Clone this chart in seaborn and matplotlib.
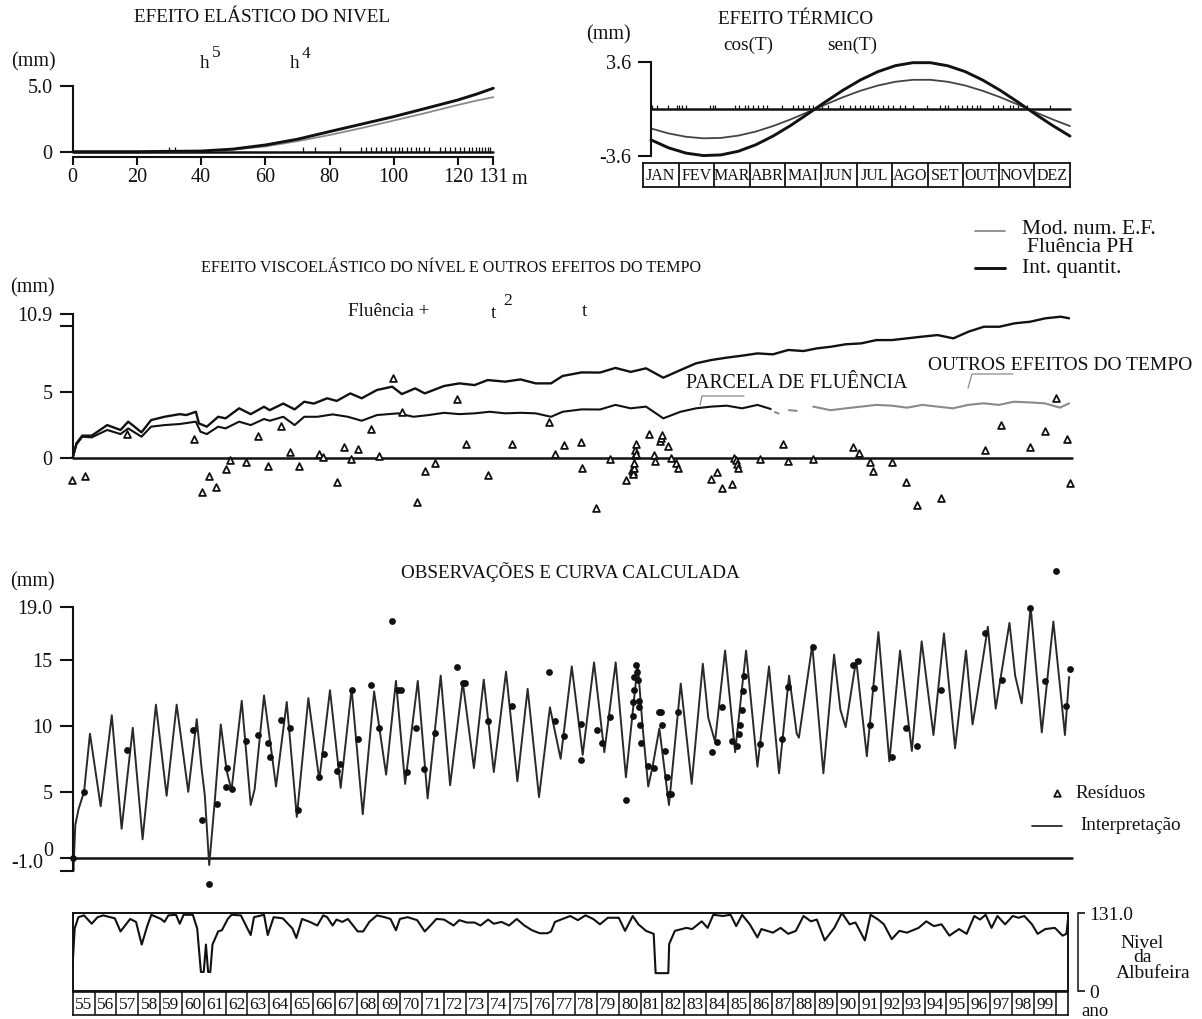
import matplotlib
matplotlib.use("Agg")
import matplotlib.pyplot as plt
import seaborn as sns

# ---------------- DATA ----------------
# Efeito elastico do nivel (h in m, mm)
elast_h = [0, 20, 40, 50, 60, 70, 80, 90, 100, 110, 120, 126, 131]
elast_int_mm = [0.0, 0.0, 0.05, 0.2, 0.51, 0.95, 1.53, 2.1, 2.67, 3.3, 3.94, 4.4, 4.83]
elast_mod_mm = [0.0, 0.0, 0.04, 0.16, 0.4, 0.8, 1.27, 1.8, 2.37, 2.95, 3.56, 3.9, 4.15]
elast_rug_h = [30.1, 31.8, 71.8, 75.4, 83.2, 89.9, 91.5, 93.0, 94.5, 96.0, 97.5, 99.0, 100.5,
               101.5, 102.5, 104.0, 105.5, 107.0, 108.0, 109.5, 111.0, 114.5, 116.0, 117.5,
               119.0, 120.5, 122.0, 123.5, 124.5, 125.5, 126.5, 127.5, 128.5, 129.5, 130.0]
elast_ticks = [0, 20, 40, 60, 80, 100, 120, 131]

# Efeito termico (day of year, mm)
term_day = [0, 15, 30, 45, 60, 75, 90, 105, 120, 135, 150, 165, 180, 195, 210, 225, 240,
            255, 270, 285, 300, 315, 330, 345, 360]
term_int_mm = [-2.38, -2.99, -3.40, -3.59, -3.54, -3.26, -2.76, -2.08, -1.27, -0.36, 0.56,
               1.45, 2.24, 2.88, 3.34, 3.57, 3.57, 3.33, 2.88, 2.23, 1.44, 0.55, -0.38,
               -1.27, -2.09]
term_mod_mm = [-1.50, -1.88, -2.14, -2.26, -2.23, -2.05, -1.74, -1.31, -0.80, -0.23, 0.35,
               0.91, 1.41, 1.81, 2.10, 2.25, 2.25, 2.10, 1.81, 1.40, 0.91, 0.35, -0.24,
               -0.80, -1.32]
term_rug_day = [0.6, 5.4, 14.9, 22.1, 24.1, 26.4, 30.1, 50.7, 53, 55, 72.2, 75.9, 80.8, 83.6,
                88, 92.2, 96.5, 99.4, 112.3, 122.3, 126.6, 130.9, 136.1, 139.6, 143.9, 146.7,
                152.4, 162.4, 165.3, 171, 175.3, 179.6, 183.9, 188.2, 191.1, 195.4, 199.7,
                204, 208.3, 214, 218.3, 225.5, 237, 248.3, 252.6, 255.5, 262.7, 267, 271.3,
                275.6, 279.9, 282.8, 294.2, 298.5, 302.8, 308.6, 311.4, 315.7, 322.9, 343]
months = ["JAN", "FEV", "MAR", "ABR", "MAI", "JUN", "JUL", "AGO", "SET", "OUT", "NOV", "DEZ"]

# Efeito viscoelastico (year, mm)
visc_year = [1955.0, 1955.17, 1955.44, 1955.87, 1956.58, 1957.19, 1957.54, 1958.15, 1958.59,
             1959.2, 1959.9, 1960.2, 1960.64, 1960.78, 1961.14, 1961.66, 1962.0, 1962.62,
             1963.15, 1963.76, 1964.02, 1964.64, 1965.16, 1965.6, 1966.04, 1966.65, 1967.09,
             1967.71, 1968.23, 1968.93, 1969.63, 1970.07, 1970.68, 1971.12, 1972.0, 1972.7,
             1973.4, 1974.0, 1974.8, 1975.5, 1976.2, 1976.9, 1977.43, 1978.3, 1979.14,
             1979.85, 1980.55, 1981.25, 1982.04, 1982.83, 1983.54, 1984.24, 1984.95,
             1985.65, 1986.35, 1987.06, 1987.76, 1988.46, 1989.07, 1989.69, 1990.39, 1991.1,
             1991.8, 1992.5, 1993.2, 1993.9, 1994.6, 1995.32, 1996.02, 1996.72, 1997.43,
             1998.13, 1998.84, 1999.54, 2000.24, 2000.62]
visc_total_mm = [0.0, 1.09, 1.67, 1.67, 2.47, 2.1, 2.73, 1.92, 2.85, 3.1, 3.3, 3.23, 3.48, 2.6,
                 2.35, 3.1, 2.98, 3.74, 3.3, 3.86, 3.6, 4.1, 3.66, 4.24, 4.1, 4.5, 4.3, 4.87,
                 4.5, 5.13, 5.38, 4.82, 5.25, 4.87, 5.43, 5.63, 5.5, 5.88, 5.76, 5.93, 5.63,
                 5.63, 6.19, 6.46, 6.45, 6.8, 6.5, 6.77, 6.06, 6.64, 7.15, 7.4, 7.58, 7.73,
                 7.9, 7.83, 8.16, 8.08, 8.28, 8.4, 8.59, 8.66, 8.91, 8.91, 9.04, 9.17, 9.29,
                 9.04, 9.55, 9.92, 9.92, 10.18, 10.3, 10.56, 10.68, 10.56]
flu_year = [1955.0, 1955.17, 1955.44, 1955.87, 1956.58, 1957.19, 1957.54, 1958.15, 1958.59,
            1959.2, 1959.9, 1960.64, 1960.85, 1961.14, 1961.66, 1962.0, 1962.62, 1963.15,
            1963.76, 1964.02, 1964.64, 1965.16, 1965.6, 1966.2, 1966.9, 1967.6, 1968.23,
            1968.93, 1969.9, 1970.6, 1971.3, 1972.0, 1972.7, 1973.4, 1974.1, 1974.8, 1975.5,
            1976.2, 1976.9, 1977.43, 1978.3, 1979.14, 1979.85, 1980.55, 1981.25, 1982.04,
            1982.83, 1983.54, 1984.24, 1984.95, 1985.65, 1986.35, 1986.96]
flu_mm = [0.0, 1.0, 1.59, 1.54, 2.1, 1.79, 2.22, 1.59, 2.35, 2.47, 2.55, 2.73, 1.97, 1.79,
          2.35, 2.22, 2.73, 2.47, 2.93, 2.8, 3.1, 2.47, 3.1, 3.1, 3.28, 3.1, 2.8, 3.23, 3.36,
          3.1, 3.23, 3.4, 3.3, 3.36, 3.48, 3.36, 3.4, 3.36, 3.1, 3.48, 3.66, 3.65, 4.0, 3.74,
          3.87, 2.98, 3.48, 3.74, 3.87, 3.94, 3.74, 4.0, 3.69]
flu_gap_a_year = [1987.15, 1987.32]
flu_gap_a_mm = [3.45, 3.35]
flu_gap_b_year = [1987.8, 1988.15]
flu_gap_b_mm = [3.6, 3.55]
flu_mod_year = [1988.9, 1989.7, 1990.4, 1991.1, 1991.8, 1992.5, 1993.2, 1993.9, 1994.6,
                1995.3, 1996.0, 1996.7, 1997.4, 1998.1, 1998.8, 1999.5, 2000.2, 2000.62]
flu_mod_mm = [3.87, 3.6, 3.74, 3.87, 4.0, 3.94, 3.79, 4.0, 3.87, 3.74, 4.0, 4.12, 4.0, 4.24,
              4.19, 4.12, 3.79, 4.12]
res_year = [1954.96, 1955.56, 1957.5, 1960.56, 1960.92, 1961.22, 1961.57, 1962.01, 1962.22,
            1962.94, 1963.5, 1963.94, 1964.52, 1964.95, 1965.34, 1966.27, 1966.48, 1967.09,
            1967.4, 1967.76, 1968.05, 1968.67, 1969.02, 1969.68, 1970.07, 1970.77, 1971.12,
            1971.59, 1972.58, 1973.0, 1974.01, 1975.1, 1976.82, 1977.08, 1977.48, 1978.26,
            1978.3, 1978.97, 1979.58, 1980.34, 1980.6, 1980.64, 1980.66, 1980.7, 1980.72,
            1980.74, 1980.76, 1980.78, 1980.8, 1981.38, 1981.6, 1981.68, 1981.9, 1981.95,
            1982.0, 1982.27, 1982.4, 1982.6, 1982.7, 1984.24, 1984.5, 1984.73, 1985.17,
            1985.3, 1985.35, 1985.4, 1985.45, 1986.48, 1987.5, 1987.76, 1988.9, 1990.71,
            1991.0, 1991.5, 1991.66, 1992.5, 1993.15, 1993.65, 1994.75, 1996.77, 1997.51,
            1998.83, 1999.53, 2000.0, 2000.52, 2000.68]
res_mm = [-1.69, -1.39, 1.77, 1.41, -2.58, -1.39, -2.25, -0.88, -0.18, -0.3, 1.64, -0.6, 2.42,
          0.45, -0.6, 0.25, 0.08, -1.82, 0.83, -0.13, 0.63, 2.15, 0.13, 6.0, 3.48, -3.38,
          -1.01, -0.38, 4.44, 1.01, -1.31, 1.01, 2.73, 0.25, 0.96, 1.16, -0.76, -3.84, -0.13,
          -1.69, -0.9, -1.1, -1.25, -0.75, -0.4, 0.2, 0.6, 1.0, 0.3, 1.79, 0.2, -0.25, 1.3,
          1.5, 1.7, 0.91, 0.0, -0.4, -0.8, -1.6, -1.1, -2.3, -2.0, 0.0, -0.2, -0.5, -0.8,
          -0.13, 1.03, -0.25, -0.13, 0.83, 0.33, -0.35, -0.98, -0.35, -1.82, -3.59, -3.08,
          0.58, 2.47, 0.83, 2.05, 4.55, 1.41, -1.89]

# Observacoes e curva calculada (year, mm)
interp_year = [1955.00, 1955.03, 1955.12, 1955.27, 1955.52, 1955.79, 1956.28, 1956.79, 1957.24,
               1957.75, 1958.20, 1958.81, 1959.30, 1959.76, 1960.29, 1960.68, 1960.90,
               1961.05, 1961.25, 1961.50, 1961.78, 1962.05, 1962.27, 1962.74, 1963.15,
               1963.33, 1963.76, 1964.31, 1964.80, 1965.26, 1965.79, 1966.29, 1966.78,
               1967.27, 1967.77, 1968.28, 1968.80, 1969.35, 1969.80, 1970.22, 1970.80,
               1971.25, 1971.85, 1972.28, 1972.86, 1973.37, 1973.82, 1974.28, 1974.84,
               1975.36, 1975.83, 1976.35, 1976.85, 1977.34, 1977.85, 1978.35, 1978.87,
               1979.34, 1979.86, 1980.33, 1980.87, 1981.10, 1981.35, 1981.55, 1981.86,
               1982.30, 1982.84, 1983.34, 1983.85, 1984.10, 1984.41, 1984.87, 1985.33,
               1985.83, 1986.35, 1986.88, 1987.34, 1987.80, 1988.15, 1988.25, 1988.86,
               1989.37, 1989.86, 1990.15, 1990.39, 1990.87, 1991.36, 1991.89, 1992.39,
               1992.88, 1993.42, 1993.87, 1994.41, 1994.89, 1995.40, 1995.90, 1996.20,
               1996.32, 1996.90, 1997.26, 1997.89, 1998.15, 1998.45, 1998.86, 1999.37,
               1999.90, 2000.43, 2000.62]
interp_mm = [0.0, -1.0, 2.5, 3.7, 5.0, 9.4, 3.9, 10.8, 2.2, 9.85, 1.4, 11.6, 4.7, 11.6, 5.0,
             10.5, 6.8, 4.7, -0.55, 4.2, 10.1, 6.6, 5.1, 11.9, 4.0, 5.2, 12.3, 5.4, 11.8, 3.1,
             12.1, 5.9, 12.7, 5.3, 12.8, 3.3, 12.6, 6.3, 13.4, 5.6, 13.4, 4.5, 13.8, 5.5,
             13.3, 6.8, 13.5, 6.5, 14.1, 5.8, 12.8, 4.6, 11.4, 7.5, 14.5, 7.8, 14.8, 8.0,
             14.8, 6.1, 14.7, 9.8, 5.4, 6.9, 9.8, 4.0, 13.2, 5.6, 14.7, 10.6, 8.8, 15.7, 8.0,
             15.7, 6.9, 14.5, 6.4, 13.8, 9.4, 9.1, 16.1, 6.4, 15.4, 11.2, 9.9, 15.0, 7.7,
             17.1, 7.3, 15.7, 8.1, 16.4, 9.3, 17.0, 8.3, 15.7, 10.1, 11.3, 17.5, 11.3, 17.8,
             13.8, 11.7, 19.0, 9.5, 17.9, 9.3, 13.7]
obs_year = [1955.00, 1955.52, 1957.50, 1960.52, 1960.90, 1961.24, 1961.59, 1962.05, 1962.03,
            1962.28, 1962.92, 1963.50, 1963.96, 1964.03, 1964.52, 1964.95, 1965.30, 1966.28,
            1966.50, 1967.09, 1967.25, 1967.77, 1968.05, 1968.66, 1969.02, 1969.63, 1969.90,
            1970.03, 1970.29, 1970.70, 1971.10, 1971.59, 1972.58, 1972.89, 1972.96, 1974.00,
            1975.10, 1976.82, 1977.08, 1977.50, 1978.26, 1978.27, 1978.99, 1979.22, 1979.60,
            1980.32, 1980.64, 1980.67, 1980.68, 1980.70, 1980.79, 1980.83, 1980.89, 1980.91,
            1980.92, 1980.96, 1981.00, 1981.36, 1981.63, 1981.86, 1981.92, 1982.00, 1982.14,
            1982.23, 1982.30, 1982.39, 1982.70, 1984.26, 1984.52, 1984.72, 1985.17, 1985.43,
            1985.52, 1985.55, 1985.63, 1985.67, 1985.75, 1986.47, 1987.46, 1987.77, 1988.88,
            1990.74, 1990.97, 1991.51, 1991.69, 1992.50, 1993.15, 1993.67, 1994.74, 1996.77,
            1997.54, 1998.83, 1999.50, 2000.02, 2000.50, 2000.66]
obs_mm = [0.0, 5.0, 8.16, 9.67, 2.85, -2.0, 4.04, 6.77, 5.33, 5.25, 8.86, 9.34, 8.66, 7.65,
          10.43, 9.8, 3.6, 6.14, 7.83, 6.57, 7.07, 12.7, 8.98, 13.08, 9.85, 17.95, 12.7, 12.7,
          6.5, 9.8, 6.7, 9.42, 14.47, 13.28, 13.28, 10.35, 11.5, 14.04, 10.35, 9.24, 10.15,
          7.4, 9.67, 8.66, 10.63, 4.37, 10.76, 11.77, 12.7, 13.7, 14.6, 14.1, 13.5, 11.9,
          11.4, 10.05, 8.66, 6.97, 6.8, 11.06, 11.06, 10.05, 8.08, 6.14, 4.8, 4.8, 11.06,
          7.98, 8.79, 11.44, 8.86, 8.5, 9.4, 10.05, 11.2, 12.6, 13.8, 8.6, 9.0, 12.95, 16.0,
          14.6, 14.9, 10.05, 12.9, 7.6, 9.8, 8.5, 12.7, 17.0, 13.5, 18.9, 13.4, 21.7, 11.5,
          14.3]

# Nivel da albufeira (year, m)
level_year = [1955.0, 1955.09, 1955.26, 1955.52, 1955.87, 1956.14, 1956.4, 1956.93, 1957.19,
              1957.63, 1957.9, 1958.16, 1958.42, 1958.6, 1959.04, 1959.2, 1959.38, 1959.73,
              1959.9, 1960.08, 1960.5, 1960.7, 1960.87, 1961.0, 1961.1, 1961.2, 1961.3,
              1961.4, 1961.66, 1961.83, 1962.1, 1962.27, 1962.7, 1963.15, 1963.3, 1963.76,
              1963.93, 1964.2, 1964.62, 1965.06, 1965.24, 1965.5, 1965.86, 1966.2, 1966.47,
              1966.65, 1966.9, 1967.08, 1967.34, 1967.6, 1968.05, 1968.3, 1968.58, 1968.93,
              1969.28, 1969.55, 1969.8, 1969.98, 1970.33, 1970.77, 1971.12, 1971.38,
              1971.65, 1972.0, 1972.44, 1972.7, 1973.05, 1973.4, 1973.67, 1974.02, 1974.28,
              1974.63, 1974.98, 1975.33, 1975.68, 1976.03, 1976.38, 1976.73, 1976.9,
              1977.08, 1977.43, 1977.78, 1978.13, 1978.48, 1978.83, 1979.14, 1979.5, 1980.0,
              1980.29, 1980.64, 1980.9, 1981.25, 1981.6, 1981.69, 1982.27, 1982.31, 1982.57,
              1983.1, 1983.36, 1983.8, 1984.07, 1984.33, 1984.77, 1985.12, 1985.38, 1985.65,
              1986.0, 1986.35, 1986.53, 1987.06, 1987.41, 1987.76, 1988.11, 1988.46, 1988.8,
              1989.07, 1989.43, 1989.87, 1990.22, 1990.57, 1990.84, 1991.27, 1991.53,
              1991.88, 1992.14, 1992.5, 1992.85, 1993.2, 1993.73, 1994.08, 1994.43, 1994.78,
              1995.14, 1995.58, 1995.93, 1996.28, 1996.54, 1996.8, 1997.07, 1997.34,
              1997.69, 1998.04, 1998.3, 1998.57, 1998.92, 1999.18, 1999.53, 1999.97,
              2000.32, 2000.5, 2000.6]
level_m = [45.8, 105, 124, 127, 113, 124, 127, 122, 100, 121, 116, 78, 110, 128, 121, 116, 127,
           128, 113, 128, 128, 105, 32, 32, 78, 32, 32, 78, 100, 102, 121, 128, 127, 94, 124,
           128, 94, 124, 122, 105, 89, 121, 116, 110, 127, 124, 110, 120, 116, 121, 100, 100,
           116, 127, 124, 121, 102, 121, 124, 119, 100, 110, 121, 120, 110, 119, 115, 115,
           110, 120, 113, 116, 110, 121, 110, 102, 97, 97, 100, 116, 121, 126, 119, 127, 121,
           112, 123, 123, 101, 126, 112, 101, 96, 30, 30, 79, 101, 106, 104, 117, 106, 128,
           126, 128, 109, 128, 112, 90, 104, 98, 106, 96, 101, 126, 117, 120, 85, 106, 131,
           112, 115, 85, 128, 120, 112, 87, 101, 98, 106, 117, 109, 112, 93, 104, 96, 126,
           120, 128, 106, 126, 112, 126, 123, 126, 112, 96, 104, 106, 93, 96, 131]
year_labels = [str(y) for y in range(55, 100)]

# ---------------- STYLE ----------------
sns.set_theme(style="white")
plt.rcParams["font.family"] = ["Liberation Serif", "DejaVu Serif"]
plt.rcParams["axes.linewidth"] = 1.5

W, H = 1202, 1019
fig = plt.figure(figsize=(W / 100, H / 100), dpi=100)
fig.patch.set_facecolor("white")
FS = 14.5      # tick labels / units
TFS = 13.8     # titles / annotations
BLACK = "#111111"
GRAY = "#8a8a8a"
TL = 9.5   # tick length pt
TP = 5.0   # tick pad pt


def add_ax(x0, y0, x1, y1):
    ax = fig.add_axes([x0 / W, 1 - y1 / H, (x1 - x0) / W, (y1 - y0) / H])
    ax.set_facecolor("none")
    for s in ax.spines.values():
        s.set_color(BLACK)
    return ax


def ftext(x, y, s, size=TFS, ha="center", va="center", **kw):
    fig.text(x / W, 1 - y / H, s, fontsize=size, ha=ha, va=va, color=BLACK, **kw)


def left_axis(ax, ticks, labels):
    for s in ["top", "right", "bottom"]:
        ax.spines[s].set_visible(False)
    ax.set_yticks(ticks)
    ax.set_yticklabels(labels)
    ax.tick_params(axis="y", left=True, direction="out", length=TL, width=1.5,
                   pad=TP, labelsize=FS, colors=BLACK)
    ax.tick_params(axis="x", bottom=False, labelbottom=False)
    ax.grid(False)


def unclip(ax):
    for a in list(ax.lines) + list(ax.collections):
        a.set_clip_on(False)


def clean(ax):
    ax.set_xlabel("")
    ax.set_ylabel("")


# ---------- Panel 1: Efeito elastico ----------
ax1 = add_ax(72.7, 86, 493.3, 151.7)
ax1.set_xlim(0, 131)
ax1.set_ylim(0, 5)
left_axis(ax1, [0, 5], ["0", "5.0"])
ax1.spines["bottom"].set_visible(True)
ax1.spines["bottom"].set_position(("outward", 4))
ax1.set_xticks(elast_ticks)
ax1.set_xticklabels([str(t) for t in elast_ticks])
ax1.tick_params(axis="x", bottom=True, labelbottom=True, direction="out", length=6,
                width=1.5, pad=2, labelsize=FS, colors=BLACK)
ax1.axhline(0, color=BLACK, lw=1.8)
ax1.vlines(elast_rug_h, 0, 0.35, color=BLACK, lw=0.9)
sns.lineplot(x=elast_h, y=elast_mod_mm, ax=ax1, color=GRAY, lw=1.3, estimator=None, sort=False)
sns.lineplot(x=elast_h, y=elast_int_mm, ax=ax1, color=BLACK, lw=2.1, estimator=None, sort=False)
clean(ax1)
unclip(ax1)
ftext(262, 18, "EFEITO ELÁSTICO DO NIVEL")
ftext(33, 62, "(mm)", size=FS)
ftext(205, 64, "h")
ftext(216, 53, "5", size=12.5)
ftext(295, 64, "h")
ftext(306, 54, "4", size=12.5)
ftext(519, 179, "m", size=FS)

# ---------- Panel 2: Efeito termico ----------
ax2 = add_ax(651, 62.3, 1070, 155.7)
ax2.set_xlim(0, 360)
ax2.set_ylim(-3.6, 3.6)
left_axis(ax2, [-3.6, 3.6], ["-3.6", "3.6"])
ax2.axhline(0, color=BLACK, lw=1.8)
ax2.vlines(term_rug_day, 0, 0.3, color=BLACK, lw=0.9)
sns.lineplot(x=term_day, y=term_mod_mm, ax=ax2, color="#444444", lw=1.3, estimator=None, sort=False)
sns.lineplot(x=term_day, y=term_int_mm, ax=ax2, color=BLACK, lw=2.1, estimator=None, sort=False)
clean(ax2)
unclip(ax2)
ftext(796, 20, "EFEITO TÉRMICO")
ftext(608, 35, "(mm)", size=FS)
ftext(748, 45, "cos(T)")
ftext(852, 45, "sen(T)")

axm = add_ax(643, 163, 1070, 187)
axm.set_xlim(0, 12)
axm.set_ylim(0, 1)
axm.set_xticks([])
axm.set_yticks([])
for s in axm.spines.values():
    s.set_linewidth(1.3)
for i in range(1, 12):
    axm.axvline(i, color=BLACK, lw=1.3)
for i, m in enumerate(months):
    axm.text(i + 0.5, 0.45, m, ha="center", va="center", fontsize=11.5, color=BLACK)

# legend (top right)
fig.add_artist(plt.Line2D([975 / W, 1005 / W], [1 - 231 / H, 1 - 231 / H], color=GRAY, lw=1.3))
fig.add_artist(plt.Line2D([975 / W, 1005 / W], [1 - 268 / H, 1 - 268 / H], color=BLACK, lw=2.1))
ftext(1022, 229, "Mod. num. E.F.", size=15.5, ha="left")
ftext(1027, 248, "Fluência PH", size=15.5, ha="left")
ftext(1022, 269, "Int. quantit.", size=15.5, ha="left")

# ---------- Panel 3: Viscoelastico ----------
XL = (1955.0, 2000.57)
ax3 = add_ax(72.7, 313.8, 1068, 457.7)
ax3.set_xlim(*XL)
ax3.set_ylim(0, 10.9)
left_axis(ax3, [0, 5, 10, 10.9], ["0", "5", "", "10.9"])
ax3.axhline(0, color=BLACK, lw=1.8, xmax=1.004)
sns.lineplot(x=visc_year, y=visc_total_mm, ax=ax3, color=BLACK, lw=1.7, estimator=None, sort=False)
sns.lineplot(x=flu_year, y=flu_mm, ax=ax3, color=BLACK, lw=1.5, estimator=None, sort=False)
sns.lineplot(x=flu_gap_a_year, y=flu_gap_a_mm, ax=ax3, color=GRAY, lw=1.5, estimator=None, sort=False)
sns.lineplot(x=flu_gap_b_year, y=flu_gap_b_mm, ax=ax3, color=GRAY, lw=1.5, estimator=None, sort=False)
sns.lineplot(x=flu_mod_year, y=flu_mod_mm, ax=ax3, color=GRAY, lw=1.5, estimator=None, sort=False)
sns.scatterplot(x=res_year, y=res_mm, ax=ax3, marker="^", s=24, color="white",
                edgecolor=BLACK, linewidth=1.3, zorder=5)
clean(ax3)
unclip(ax3)
ftext(451, 268, "EFEITO VISCOELÁSTICO DO NÍVEL E OUTROS EFEITOS DO TEMPO", size=11.6)
ftext(32, 288, "(mm)", size=FS)
ftext(389, 311, "Fluência +")
ftext(493, 313, "t")
ftext(508, 301, "2", size=12.5)
ftext(584, 312, "t")
ftext(797, 383, "PARCELA DE FLUÊNCIA", size=14.2)
ftext(1060, 365, "OUTROS EFEITOS DO TEMPO", size=14)
fig.add_artist(plt.Line2D([700 / W, 702 / W, 744 / W],
                          [1 - 405 / H, 1 - 396 / H, 1 - 396 / H], color=GRAY, lw=0.9))
fig.add_artist(plt.Line2D([968 / W, 972 / W, 1013 / W],
                          [1 - 388 / H, 1 - 374 / H, 1 - 374 / H], color=GRAY, lw=0.9))

# ---------- Panel 4: Observacoes ----------
ax4 = add_ax(72.7, 607, 1068, 871)
ax4.set_xlim(*XL)
ax4.set_ylim(-1, 19)
left_axis(ax4, [-1, 0, 5, 10, 15, 19], ["", "", "5", "10", "15", "19.0"])
ax4.axhline(0, color=BLACK, lw=1.8, xmax=1.004)
sns.lineplot(x=interp_year, y=interp_mm, ax=ax4, color="#2a2a2a", lw=1.4, estimator=None,
             sort=False, solid_joinstyle="round")
sns.scatterplot(x=obs_year, y=obs_mm, ax=ax4, s=24, color=BLACK, edgecolor=BLACK,
                linewidth=0, zorder=5)
clean(ax4)
unclip(ax4)
ftext(570, 572, "OBSERVAÇÕES E CURVA CALCULADA")
ftext(32, 582, "(mm)", size=FS)
ftext(27, 864, "-1.0", size=FS)
ftext(48, 851, "0", size=FS)
ax_leg = fig.add_axes([0, 0, 1, 1])
ax_leg.set_axis_off()
ax_leg.set_xlim(0, W)
ax_leg.set_ylim(H, 0)
ax_leg.scatter([1057], [793], marker="^", s=22, color="white", edgecolor=BLACK, linewidth=1.3)
ax_leg.plot([1032, 1062], [826, 826], color="#2a2a2a", lw=1.3)
ftext(1075, 793, "Resíduos", size=13.8, ha="left")
ftext(1080, 826, "Interpretação", size=13.8, ha="left")

# ---------- Panel 5: Nivel da albufeira ----------
ax5 = add_ax(72.7, 913, 1068, 991)
ax5.set_xlim(*XL)
ax5.set_ylim(0, 131)
ax5.set_xticks([])
ax5.set_yticks([])
for s in ax5.spines.values():
    s.set_linewidth(1.4)
sns.lineplot(x=level_year, y=level_m, ax=ax5, color=BLACK, lw=1.5, estimator=None, sort=False)
clean(ax5)
ax5b = ax5.twinx()
ax5b.set_ylim(0, 131)
for s in ["top", "left", "bottom"]:
    ax5b.spines[s].set_visible(False)
ax5b.spines["right"].set_position(("outward", 7))
ax5b.spines["right"].set_linewidth(1.2)
ax5b.set_yticks([0, 131])
ax5b.set_yticklabels(["0", "131.0"])
ax5b.tick_params(axis="y", right=True, direction="out", length=5, width=1.2, pad=3,
                 labelsize=14, colors=BLACK)
ax5b.grid(False)
ftext(1142, 943, "Nivel", size=14)
ftext(1142, 958, "da", size=14)
ftext(1153, 973, "Albufeira", size=14)

axy = add_ax(72.7, 992, 1068, 1015)
axy.set_xlim(*XL)
axy.set_ylim(0, 1)
axy.set_xticks([])
axy.set_yticks([])
for s in axy.spines.values():
    s.set_linewidth(1.2)
for i, lab in enumerate(year_labels):
    axy.axvline(1956 + i, color=BLACK, lw=1.1)
    axy.text(1955.5 + i, 0.45, lab, ha="center", va="center", fontsize=12.5, color=BLACK)
ftext(1095, 1011, "ano", size=13.5)

fig.savefig("out.png", dpi=100, facecolor="white")
